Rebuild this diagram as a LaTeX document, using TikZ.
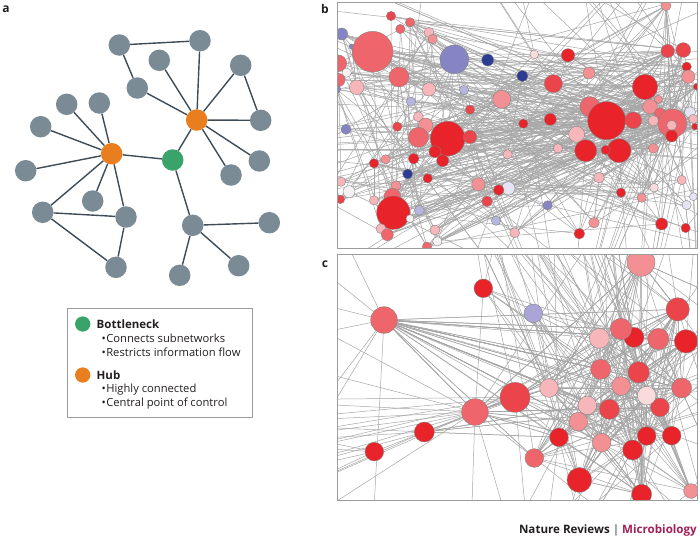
\documentclass[tikz,border=0pt]{standalone}
\usepackage{fontspec}
\setmainfont{Open Sans}
\setsansfont{Open Sans}
\definecolor{netgray}{HTML}{7A8B95}
\definecolor{aedgecol}{HTML}{3E4C57}
\definecolor{huborange}{HTML}{E97E1F}
\definecolor{bngreen}{HTML}{3AA36A}
\definecolor{cR}{HTML}{E8232A}
\definecolor{cRb}{HTML}{EB444A}
\definecolor{cRc}{HTML}{EE666B}
\definecolor{cRd}{HTML}{F29094}
\definecolor{cP}{HTML}{F6B6BA}
\definecolor{cPl}{HTML}{FADBDC}
\definecolor{cW}{HTML}{F6F1F3}
\definecolor{cLa}{HTML}{E4E4F2}
\definecolor{cLb}{HTML}{B5B5DD}
\definecolor{cLc}{HTML}{8585C4}
\definecolor{cLv}{HTML}{A9A5D7}
\definecolor{cB}{HTML}{2D3C93}
\definecolor{framegray}{HTML}{9C9C9C}
\definecolor{txtdark}{HTML}{231F20}
\definecolor{natmag}{HTML}{A3205A}
\tikzset{
  anode/.style={circle, fill=netgray, minimum size=21.5pt, inner sep=0pt},
  hubnode/.style={anode, fill=huborange},
  bnnode/.style={anode, fill=bngreen},
  aedge/.style={draw=aedgecol, line width=1.4pt},
  netnode/.style={circle, inner sep=0pt, draw=black!50, line width=0.35pt},
  netline/.style={draw=black!35, line width=0.5pt},
  panelframe/.style={draw=framegray, line width=1pt},
  panellabel/.style={font=\bfseries\fontsize{12}{12}\selectfont, text=txtdark},
  legtitle/.style={font=\bfseries\fontsize{11.5}{11.5}\selectfont, text=txtdark, anchor=base west, inner sep=0pt},
  legitem/.style={font=\fontsize{11.2}{11.2}\selectfont, text=txtdark, anchor=base west, inner sep=0pt},
}
\begin{document}
\begin{tikzpicture}[x=1pt,y=-1pt]
\useasboundingbox (0,0) rectangle (700,539);

% ---------------- panel a ----------------
\node[panellabel] (la) at (6,9.5) {a};
\node[anode] (g1) at (119.3,45) {};
\node[anode] (g2) at (200,40.7) {};
\node[anode] (g3) at (159.3,60.3) {};
\node[anode] (g4) at (240.7,65.3) {};
\node[anode] (g5) at (137.3,88) {};
\node[anode] (g6) at (260.7,120.3) {};
\node[anode] (g7) at (66.7,104.3) {};
\node[anode] (g8) at (99.3,103) {};
\node[anode] (g9) at (40.7,126.7) {};
\node[anode] (g10) at (259.3,161) {};
\node[anode] (g11) at (231,175) {};
\node[anode] (g12) at (25.7,170.7) {};
\node[anode] (g13) at (92.7,201) {};
\node[anode] (g14) at (42.7,212.3) {};
\node[anode] (g15) at (126,217) {};
\node[anode] (g16) at (192.7,225.3) {};
\node[anode] (g17) at (269.3,222.7) {};
\node[anode] (g18) at (116,267.3) {};
\node[anode] (g19) at (238.7,265.7) {};
\node[anode] (g20) at (179.7,275.3) {};
\node[hubnode] (h2) at (196.7,120) {};
\node[hubnode] (h1) at (111.7,153.7) {};
\node[bnnode] (bn) at (172.7,160) {};
\draw[aedge] (g1) -- (g2);
\draw[aedge] (g1) -- (g5);
\draw[aedge] (g5) -- (h2);
\draw[aedge] (g3) -- (h2);
\draw[aedge] (g2) -- (h2);
\draw[aedge] (g4) -- (h2);
\draw[aedge] (g4) -- (g6);
\draw[aedge] (g6) -- (h2);
\draw[aedge] (h2) -- (g10);
\draw[aedge] (h2) -- (g11);
\draw[aedge] (h2) -- (bn);
\draw[aedge] (bn) -- (h1);
\draw[aedge] (bn) -- (g16);
\draw[aedge] (g16) -- (g17);
\draw[aedge] (g16) -- (g19);
\draw[aedge] (g16) -- (g20);
\draw[aedge] (h1) -- (g7);
\draw[aedge] (h1) -- (g8);
\draw[aedge] (h1) -- (g9);
\draw[aedge] (h1) -- (g12);
\draw[aedge] (h1) -- (g13);
\draw[aedge] (h1) -- (g14);
\draw[aedge] (h1) -- (g15);
\draw[aedge] (g14) -- (g15);
\draw[aedge] (g14) -- (g18);
\draw[aedge] (g15) -- (g18);

% legend
\node[draw=framegray, line width=0.8pt, minimum width=184.4pt, minimum height=108.4pt, anchor=north west, inner sep=0pt] (legend) at (67.3,308.3) {};
\node[circle, fill=bngreen, minimum size=15.3pt, inner sep=0pt] (lgb) at (82.7,324) {};
\node[legtitle] (lt1) at (96.5,328.3) {Bottleneck};
\node[legitem] (li1) at (101.3,342.3) {•\kern0.6pt Connects subnetworks};
\node[legitem] (li2) at (101.3,356) {•\kern0.6pt Restricts information flow};
\node[circle, fill=huborange, minimum size=15.3pt, inner sep=0pt] (lgh) at (82.7,375) {};
\node[legtitle] (lt2) at (96.5,379.2) {Hub};
\node[legitem] (li3) at (101.3,392.8) {•\kern0.6pt Highly connected};
\node[legitem] (li4) at (101.3,406.5) {•\kern0.6pt Central point of control};

% ---------------- panel b ----------------
\node[panellabel] (lb) at (325,8.5) {b};
\pgfmathsetseed{4711}
\begin{scope}
\clip (337.7,2.7) rectangle (697.3,248.3);
\begin{scope}[shift={(335,0)},scale=1/3]
\def\bnodes{1/168/48/14/cRb, 2/225/67/14/cRc, 3/196/87/14/cRc, 4/282/97/15/cP, 5/293/117/14/cRd,
 6/20/102/18/cLc, 7/50/140/8/cLc, 8/113/155/61/cRc, 9/10/190/25/cRc, 10/35/218/14/cW,
 11/10/240/20/cRc, 12/5/268/12/cLc, 13/192/231/30/cRc, 14/65/262/22/cP, 15/282/268/20/cP,
 16/358/178/43/cLc, 17/458/180/18/cB, 18/562/228/17/cB, 19/598/163/13/cPl, 20/699/166/20/cR,
 21/762/219/18/cRd, 22/655/251/27/cRb, 23/500/298/27/cRd, 24/387/270/14/cLb, 25/228/305/14/cLb,
 26/405/329/14/cRb, 27/250/350/15/cP, 28/272/376/22/cRd, 29/187/380/14/cRb, 30/33/388/15/cLc,
 31/250/412/30/cRc, 32/338/416/52/cR, 33/405/411/20/cRb, 34/300/455/18/cR, 35/323/482/18/cR,
 36/565/371/14/cR, 37/646/358/18/cR, 38/725/403/24/cP, 39/669/445/14/cP, 40/518/463/14/cP,
 41/236/476/16/cR, 42/152/478/14/cRd, 43/117/490/14/cR, 44/218/522/15/cB, 45/278/535/14/cR,
 46/183/557/15/cRd, 47/18/545/14/cP, 48/42/575/18/cW, 49/16/598/13/cRb, 50/117/601/14/cP,
 51/172/590/25/cRc, 52/175/638/50/cR, 53/253/631/15/cLb, 54/225/656/12/cW, 55/138/686/15/cP,
 56/157/704/18/cRc, 57/300/690/15/cP, 58/307/724/14/cW, 59/276/740/14/cRc, 60/430/553/20/cRd,
 61/520/565/20/cLa, 62/491/570/16/cR, 63/456/604/16/cRb, 64/638/616/14/cLc, 65/483/662/14/cLb,
 66/539/698/15/cP, 67/733/701/16/cR, 68/777/668/16/cRd, 69/792/533/16/cP, 70/858/578/14/cR,
 71/920/593/14/cRd, 72/957/563/13/cPl, 73/1040/540/14/cP, 74/1075/590/12/cLa, 75/1055/615/14/cLa,
 76/980/672/18/cR, 77/1052/684/14/cR, 78/765/320/30/cRc, 79/815/362/57/cR, 80/752/452/33/cR,
 81/852/452/36/cR, 82/812/450/14/cR, 83/895/361/25/cRb, 84/930/261/38/cR, 85/970/298/12/cRd,
 86/945/320/22/cRd, 87/975/340/17/cRc, 88/955/362/16/cP, 89/1012/370/43/cRc, 90/1010/376/15/cP,
 91/1010/408/18/cR, 92/1065/337/17/cLa, 93/1075/357/14/cP, 94/1080/380/10/cR, 95/955/445/15/cRd,
 96/998/153/20/cRb, 97/1045/150/22/cRb, 98/1055/200/14/cR, 99/1060/230/20/cRd, 100/993/17/15/cRd,
 101/1085/260/10/cR}
\foreach \n/\x/\y/\r/\col in \bnodes { \coordinate (b\n) at (\x,\y); }
\foreach \n/\x/\y in {1/-300/-200, 2/300/-300, 3/700/-300, 4/1100/-300, 5/1400/-100,
 6/1400/250, 7/1400/500, 8/1400/800, 9/1100/1100, 10/700/1100, 11/300/1100, 12/-300/1000,
 13/-300/600, 14/-300/300, 15/-300/0, 16/1400/350, 17/1400/150, 18/500/-300, 19/900/1100, 20/-300/450}
 { \coordinate (bo\n) at (\x,\y); }
\foreach \k in {1,...,220} {
  \pgfmathrandominteger{\ea}{1}{101}
  \pgfmathrandominteger{\eb}{1}{101}
  \draw[netline] (b\ea) -- (b\eb);
}
\foreach \ea in {78,...,101} {
  \foreach \k in {1,...,8} {
    \pgfmathrandominteger{\eb}{1}{101}
    \draw[netline] (b\ea) -- (b\eb);
  }
}
\foreach \ea in {8,32,52,16,13,31} {
  \foreach \k in {1,...,8} {
    \pgfmathrandominteger{\eb}{1}{101}
    \draw[netline] (b\ea) -- (b\eb);
  }
}
\foreach \k in {1,...,70} {
  \pgfmathrandominteger{\ea}{1}{101}
  \pgfmathrandominteger{\eb}{1}{20}
  \draw[netline] (b\ea) -- (bo\eb);
}
\foreach \k in {1,...,50} {
  \pgfmathrandominteger{\ea}{78}{101}
  \pgfmathrandominteger{\eb}{1}{20}
  \draw[netline] (b\ea) -- (bo\eb);
}
\foreach \n/\x/\y/\r/\col in \bnodes {
  \node[netnode, fill=\col, minimum size={2*\r/3}] (nb\n) at (b\n) {};
}
\end{scope}
\end{scope}
\draw[panelframe] (337.7,2.7) rectangle (697.3,248.3);

% ---------------- panel c ----------------
\node[panellabel] (lc) at (325,264) {c};
\begin{scope}
\clip (337.7,254.7) rectangle (697.3,500);
\begin{scope}[shift={(335,250)},scale=1/3]
\def\cnodes{1/918/37/42/cRd, 2/1028/178/35/cRb, 3/897/262/30/cR, 4/858/237/32/cRc, 5/793/265/30/cP,
 6/970/267/32/cRc, 7/1053/274/35/cR, 8/797/358/30/cRc, 9/911/367/32/cRb, 10/858/408/28/cRd,
 11/975/472/28/cRb, 12/935/437/28/cPl, 13/1040/414/30/cRc, 14/642/414/28/cP, 15/540/442/45/cRb,
 16/420/486/40/cRc, 17/823/478/30/cRb, 18/730/515/28/cRd, 19/757/466/28/cP, 20/672/562/28/cR,
 21/800/578/28/cRd, 22/935/558/28/cR, 23/1010/557/28/cR, 24/893/600/30/cR, 25/598/624/28/cRc,
 26/733/690/37/cR, 27/920/733/30/cR, 28/1068/723/22/cRd, 29/445/115/28/cR, 30/595/190/28/cLv,
 31/147/210/40/cRc, 32/268/546/30/cR, 33/118/605/28/cR}
\foreach \n/\x/\y/\r/\col in \cnodes { \coordinate (c\n) at (\x,\y); }
\foreach \n/\x/\y in {1/300/-300, 2/380/-300, 3/450/-300, 4/550/-300, 5/650/-300, 6/800/-300,
 7/950/-300, 8/1100/-300, 9/1400/100, 10/1400/400, 11/1400/700, 12/1000/1100, 13/800/1100,
 14/600/1100, 15/400/1100, 16/1300/1000, 17/1300/-200, 18/700/-300, 19/1200/1100, 20/1400/250}
 { \coordinate (co\n) at (\x,\y); }
\foreach \n/\x/\y in {1/-300/-150, 2/-300/100, 3/-300/300, 4/-300/450, 5/-300/520, 6/-300/580,
 7/-300/640, 8/-300/700, 9/-300/800, 10/-100/-300, 11/100/1100, 12/-300/950}
 { \coordinate (cl\n) at (\x,\y); }
\foreach \k in {1,...,260} {
  \pgfmathrandominteger{\ea}{1}{28}
  \pgfmathrandominteger{\eb}{1}{28}
  \draw[netline] (c\ea) -- (c\eb);
}
\foreach \k in {1,...,120} {
  \pgfmathrandominteger{\ea}{1}{28}
  \pgfmathrandominteger{\eb}{1}{20}
  \draw[netline] (c\ea) -- (co\eb);
}
\foreach \k in {1,...,45} {
  \pgfmathrandominteger{\eb}{1}{28}
  \draw[netline] (c31) -- (c\eb);
}
\foreach \eb in {1,2,3,10,11,12,9} { \draw[netline] (c31) -- (cl\eb); }
\foreach \eb in {2,3,4,5,6,7,8,9,12} { \draw[netline] (c16) -- (cl\eb); }
\foreach \eb in {4,5,6,7} { \draw[netline] (c15) -- (cl\eb); }
\foreach \eb in {5,6,8,9} { \draw[netline] (c32) -- (cl\eb); \draw[netline] (c33) -- (cl\eb); }
\foreach \k in {1,...,8} {
  \pgfmathrandominteger{\eb}{1}{28}
  \draw[netline] (c29) -- (c\eb);
  \pgfmathrandominteger{\eb}{1}{28}
  \draw[netline] (c30) -- (c\eb);
  \pgfmathrandominteger{\eb}{1}{28}
  \draw[netline] (c32) -- (c\eb);
}
\draw[netline] (c29) -- (co2); \draw[netline] (c29) -- (co4);
\draw[netline] (c30) -- (co3); \draw[netline] (c31) -- (c16);
\draw[netline] (c33) -- (c16); \draw[netline] (c32) -- (c15);
\foreach \n/\x/\y/\r/\col in \cnodes {
  \node[netnode, fill=\col, minimum size={2*\r/3}] (nc\n) at (c\n) {};
}
\end{scope}
\end{scope}
\draw[panelframe] (337.7,254.7) rectangle (697.3,500);

% footer
\node[font=\bfseries\fontsize{11.6}{11.6}\selectfont, anchor=base east, inner sep=0pt] (foot) at (697,533)
 {\textcolor{txtdark}{Nature Reviews} \textcolor{black!55}{|} \textcolor{natmag}{Microbiology}};
\end{tikzpicture}
\end{document}
